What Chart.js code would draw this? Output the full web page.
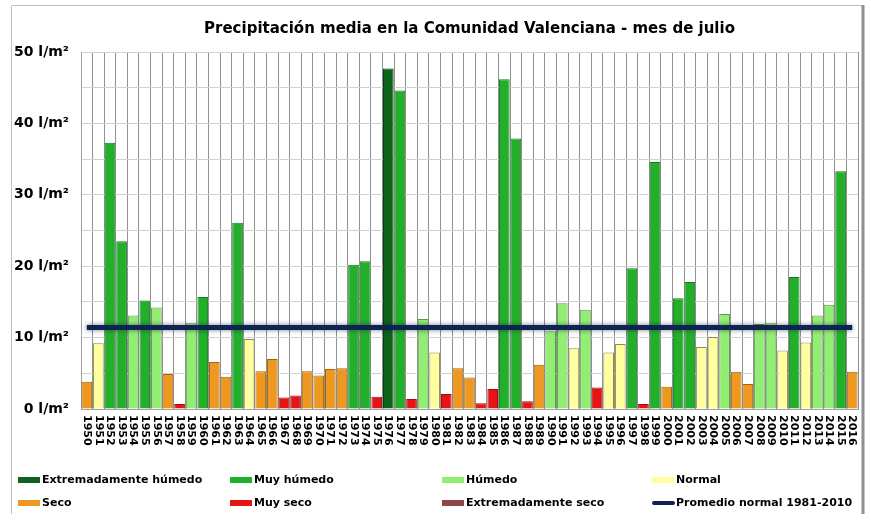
<!DOCTYPE html>
<html>
<head>
<meta charset="utf-8">
<script src="https://cdn.jsdelivr.net/npm/chart.js@4.4.1/dist/chart.umd.min.js"></script>
<style>
  html, body { margin: 0; padding: 0; background: #fff; }
  #wrap { width: 871px; height: 524px; position: relative; }
</style>
</head>
<body>
<div id="wrap"><canvas id="chart" width="871" height="524"></canvas></div>
<script>
// Datos: precipitación media de julio (l/m²) por año
const years = [];
for (let y = 1950; y <= 2016; y++) years.push(String(y));

const precip = [
  3.8, 9.2, 37.3, 23.5, 13.1, 15.2, 14.2, 4.9, 0.7, 12.0,
  15.7, 6.6, 4.5, 26.1, 9.8, 5.3, 7.0, 1.6, 1.9, 5.3,
  4.7, 5.6, 5.7, 20.2, 20.7, 1.7, 47.7, 44.6, 1.4, 12.6,
  7.9, 2.1, 5.7, 4.4, 0.8, 2.8, 46.2, 37.9, 1.1, 6.2,
  10.9, 14.8, 8.5, 13.9, 3.0, 7.9, 9.1, 19.7, 0.7, 34.6,
  3.1, 15.5, 17.8, 8.7, 10.1, 13.3, 5.2, 3.5, 11.9, 12.0,
  8.2, 18.5, 9.3, 13.1, 14.6, 33.3, 5.2
];

// Carácter del mes: EH, MH, H, N, S, MS, ES
const character = [
  "S", "N", "MH", "MH", "H", "MH", "H", "S", "MS", "H",
  "MH", "S", "S", "MH", "N", "S", "S", "MS", "MS", "S",
  "S", "S", "S", "MH", "MH", "MS", "EH", "MH", "MS", "H",
  "N", "MS", "S", "S", "MS", "MS", "MH", "MH", "MS", "S",
  "H", "H", "N", "H", "MS", "N", "N", "MH", "MS", "MH",
  "S", "MH", "MH", "N", "N", "H", "S", "S", "H", "H",
  "N", "MH", "N", "H", "H", "MH", "S"
];

const normalAverage = 11.4;

const classKeys = ["EH", "MH", "H", "N", "S", "MS", "ES"];
const classNames = ["Extremadamente húmedo", "Muy húmedo", "Húmedo", "Normal", "Seco", "Muy seco", "Extremadamente seco"];
const classFill = ["#0b641a", "#22b02a", "#92ee72", "#ffffa0", "#ee9820", "#e61414", "#8c4646"];
const classEdge = ["#06400f", "#167a1c", "#5a9a48", "#8a8a50", "#a0660f", "#a00c0c", "#5a2a2a"];
const averageLabel = "Promedio normal 1981-2010";
const averageColor = "#0f2350";

const fill = character.map(c => classFill[classKeys.indexOf(c)]);
const edge = character.map(c => classEdge[classKeys.indexOf(c)]);

const FONT = "'DejaVu Sans', Verdana, sans-serif";

// etiquetas de años giradas hacia abajo
const yearLabels = {
  id: "yearLabels",
  afterDraw(chart) {
    const ctx = chart.ctx;
    const xs = chart.scales.x;
    ctx.save();
    ctx.fillStyle = "#000";
    ctx.font = "bold 11px " + FONT;
    ctx.textAlign = "left";
    ctx.textBaseline = "middle";
    years.forEach((label, i) => {
      const x = xs.getPixelForTick(i);
      ctx.save();
      ctx.translate(x, chart.chartArea.bottom + 6);
      ctx.rotate(Math.PI / 2);
      ctx.fillText(label, 0, 0);
      ctx.restore();
    });
    ctx.restore();
  }
};

// leyenda en cuatro columnas
const gridLegend = {
  id: "gridLegend",
  afterDraw(chart) {
    const ctx = chart.ctx;
    const cols = [18, 230, 442, 652];
    const rows = [480, 503];
    const items = classNames.map((n, i) => ({ text: n, fill: classFill[i], line: false }));
    items.push({ text: averageLabel, fill: averageColor, line: true });
    ctx.save();
    ctx.font = "bold 11px " + FONT;
    ctx.textBaseline = "middle";
    ctx.fillStyle = "#000";
    items.forEach((it, i) => {
      const x = cols[i % 4];
      const y = rows[Math.floor(i / 4)];
      if (it.line) {
        ctx.strokeStyle = it.fill;
        ctx.lineWidth = 4;
        ctx.lineCap = "round";
        ctx.beginPath();
        ctx.moveTo(x + 2, y);
        ctx.lineTo(x + 21, y);
        ctx.stroke();
      } else {
        ctx.fillStyle = it.fill;
        ctx.fillRect(x, y - 3, 22, 6);
      }
      ctx.fillStyle = "#000";
      ctx.fillText(it.text, x + 24, y);
    });
    ctx.restore();
  }
};

// marco exterior
const frame = {
  id: "frame",
  beforeDraw(chart) {
    const ctx = chart.ctx;
    ctx.save();
    ctx.fillStyle = "#fff";
    ctx.fillRect(0, 0, chart.width, chart.height);
    ctx.strokeStyle = "#c0c0c0";
    ctx.lineWidth = 1;
    ctx.beginPath();
    ctx.moveTo(11.5, 514);
    ctx.lineTo(11.5, 5.5);
    ctx.lineTo(862, 5.5);
    ctx.stroke();
    ctx.strokeStyle = "#909090";
    ctx.lineWidth = 3;
    ctx.beginPath();
    ctx.moveTo(863, 5);
    ctx.lineTo(863, 514);
    ctx.stroke();
    ctx.restore();
  }
};

// sombra difusa de la línea de promedio
const lineShadow = {
  id: "lineShadow",
  beforeDatasetDraw(chart, args) {
    if (args.meta.type === "line") {
      chart.ctx.save();
      chart.ctx.shadowColor = "rgba(10, 20, 60, 0.55)";
      chart.ctx.shadowBlur = 5;
    }
  },
  afterDatasetDraw(chart, args) {
    if (args.meta.type === "line") chart.ctx.restore();
  }
};

new Chart(document.getElementById("chart"), {
  data: {
    labels: years,
    datasets: [
      {
        type: "line",
        label: averageLabel,
        data: years.map(() => normalAverage),
        borderColor: averageColor,
        borderWidth: 5,
        pointRadius: 0,
        order: 0
      },
      {
        type: "bar",
        label: "Precipitación",
        data: precip,
        backgroundColor: fill,
        borderColor: edge,
        borderWidth: 1,
        barPercentage: 0.92,
        categoryPercentage: 1.0,
        order: 1
      }
    ]
  },
  options: {
    responsive: false,
    animation: false,
    layout: { padding: { left: 0, right: 13, top: 0, bottom: 0 } },
    plugins: {
      legend: { display: false },
      tooltip: { enabled: false },
      title: {
        display: true,
        fullSize: false,
        text: "Precipitación media en la Comunidad Valenciana - mes de julio",
        color: "#000",
        font: { family: FONT, size: 15, weight: "bold" },
        padding: { top: 20, bottom: 14 }
      }
    },
    scales: {
      x: {
        offset: true,
        grid: { offset: true, color: "#909090", lineWidth: 1, drawTicks: false },
        border: { display: true, color: "#a0a0a0" },
        ticks: { display: false },
        afterFit(scale) { scale.height = 115; }
      },
      y: {
        min: 0,
        max: 50,
        grid: { color: "#d0d0d0", drawTicks: false },
        border: { display: true, color: "#a0a0a0" },
        ticks: {
          stepSize: 5,
          padding: 12,
          color: "#000",
          font: { family: FONT, size: 14, weight: "bold" },
          callback: v => (v % 10 === 0 ? v + " l/m²" : "")
        },
        afterFit(scale) { scale.width = 81; }
      }
    }
  },
  plugins: [frame, lineShadow, yearLabels, gridLegend]
});
</script>
</body>
</html>
